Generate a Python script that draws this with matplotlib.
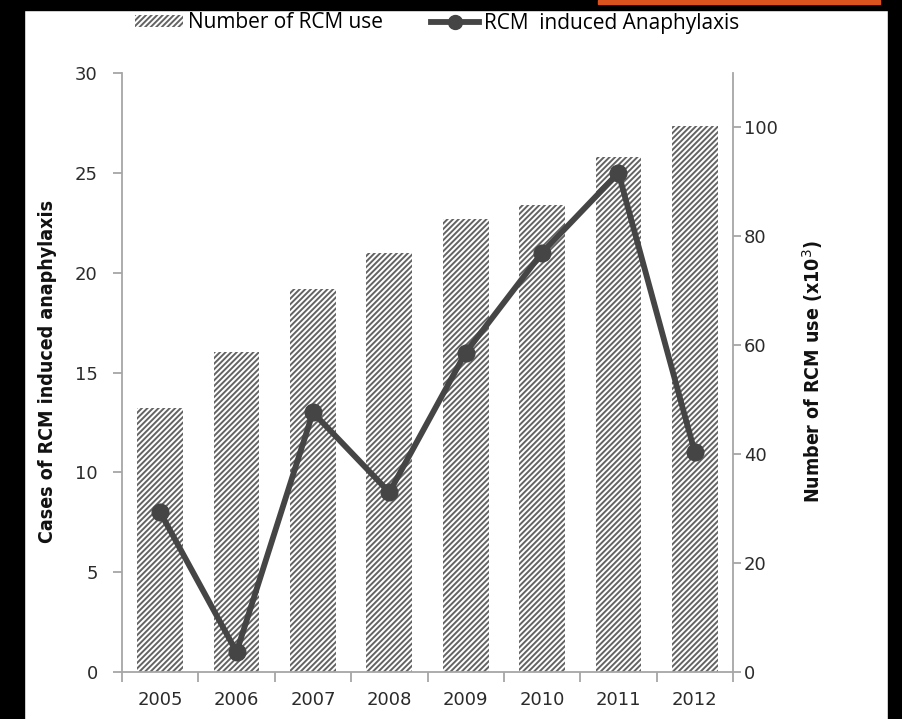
import matplotlib
matplotlib.use("Agg")
import matplotlib.pyplot as plt
from matplotlib.patches import Rectangle, Patch
from matplotlib.lines import Line2D
import numpy as np

years = ["2005", "2006", "2007", "2008", "2009", "2010", "2011", "2012"]
rcm_use = [48.5, 58.8, 70.4, 77.0, 83.1, 85.8, 94.5, 100.2]   # x10^3
anaphylaxis = [8, 1, 13, 9, 16, 21, 25, 11]

W, H = 902, 719
fig = plt.figure(figsize=(W / 100, H / 100), dpi=100)
fig.patch.set_facecolor("white")

plt.rcParams["hatch.linewidth"] = 1.4
plt.rcParams["hatch.color"] = "#636363"

ax = fig.add_axes([122 / W, 1 - 672 / H, (733 - 122) / W, (672 - 73) / H])
ax2 = ax.twinx()

x = np.arange(len(years))
ax2.bar(x, rcm_use, width=0.6, color="white", edgecolor="#636363",
        hatch="//////", linewidth=0, zorder=1)
ax.set_zorder(ax2.get_zorder() + 1)
ax.patch.set_visible(False)
line_c = "#454545"
ax.plot(x, anaphylaxis, color=line_c, lw=4.2, marker="o", ms=12,
        zorder=3)

ax.set_xlim(-0.5, len(years) - 0.5)
ax.set_ylim(0, 30)
ax2.set_ylim(0, 110)
ax.set_yticks(range(0, 31, 5))
ax2.set_yticks(range(0, 101, 20))

spine_c = "#a6a6a6"
for a in (ax, ax2):
    a.spines["top"].set_visible(False)
    for s in ("left", "right", "bottom"):
        a.spines[s].set_color(spine_c)
        a.spines[s].set_linewidth(1.3)
ax.spines["right"].set_visible(False)
ax2.spines["left"].set_visible(False)
ax2.spines["bottom"].set_visible(False)

ax.set_xticks(x)
ax.set_xticklabels(years)
ax.set_xticks(np.arange(-0.5, len(years)), minor=True)
ax.tick_params(axis="x", which="major", length=0, pad=14)
ax.tick_params(axis="x", which="minor", length=7, color=spine_c, width=1.3)
ax.tick_params(axis="y", length=6.5, color=spine_c, width=1.3, pad=11)
ax2.tick_params(axis="y", length=6, color=spine_c, width=1.3, pad=2)
for t in ax.get_xticklabels() + ax.get_yticklabels() + ax2.get_yticklabels():
    t.set_fontfamily("DejaVu Sans")
    t.set_fontsize(13)
    t.set_color("#2b2b2b")

fig.text(48 / W, 1 - 371 / H, "Cases of RCM induced anaphylaxis",
         rotation=90, ha="center", va="center", fontsize=14,
         fontweight="bold", family="DejaVu Sans", fontstretch="condensed",
         color="#111111")
fig.text(813 / W, 1 - 371 / H, "Number of RCM use (x10$^{3}$)",
         rotation=90, ha="center", va="center", fontsize=14,
         fontweight="bold", family="DejaVu Sans", fontstretch="condensed",
         color="#111111")

handles = [Patch(facecolor="white", edgecolor="#636363", hatch="//////",
                 linewidth=0),
           Line2D([], [], color=line_c, lw=4.2, marker="o", ms=10)]
fig.legend(handles, ["Number of RCM use", "RCM  induced Anaphylaxis"],
           loc="center", bbox_to_anchor=(437 / W, 1 - 23 / H), ncol=2,
           frameon=False, prop={"family": "Open Sans", "size": 15},
           handlelength=2.3, handletextpad=0.25, columnspacing=2.3,
           handleheight=0.5)

# frame around the figure
fig.add_artist(Rectangle((0, 0), 24 / W, 1, transform=fig.transFigure,
                         color="black", zorder=10))
fig.add_artist(Rectangle((888 / W, 0), 14 / W, 1, transform=fig.transFigure,
                         color="black", zorder=10))
fig.add_artist(Rectangle((0, 1 - 10 / H), 1, 10 / H, transform=fig.transFigure,
                         color="black", zorder=10))
fig.add_artist(Rectangle((598 / W, 1 - 4 / H), 282 / W, 4 / H,
                         transform=fig.transFigure, color="#d9531e", zorder=11))

fig.savefig("out.png", dpi=100, facecolor=fig.get_facecolor())
